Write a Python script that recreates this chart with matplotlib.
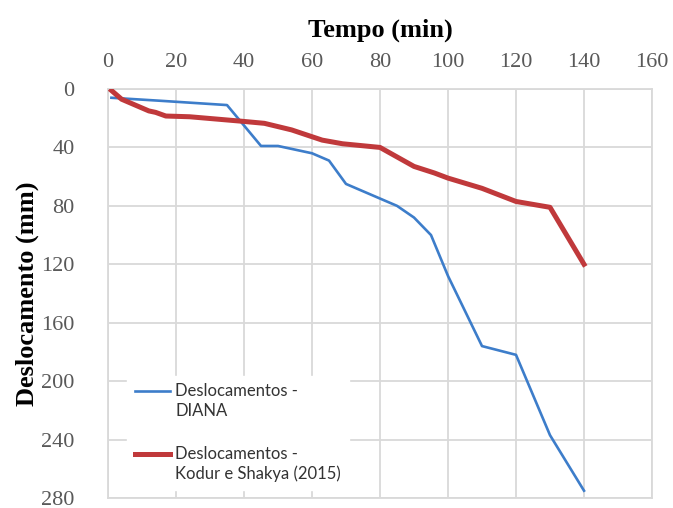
import matplotlib.pyplot as plt

# Dados
diana_t = [1, 15, 35, 45, 50, 60, 65, 70, 80, 85, 90, 95, 100, 110, 120, 130, 140]
diana_d = [6, 8, 11, 39, 39, 44, 49, 65, 75, 80, 88, 100, 128, 176, 182, 237, 275]

kodur_t = [1, 4, 12, 14, 17, 24, 39, 46, 54, 63, 69, 80, 90, 96, 100, 110, 120, 130, 140]
kodur_d = [1, 7, 15, 16, 18.5, 19, 22, 23.5, 28, 35, 37.5, 40, 53, 57.5, 61, 68, 77, 81, 120]

x_ticks = [0, 20, 40, 60, 80, 100, 120, 140, 160]
y_ticks = [0, 40, 80, 120, 160, 200, 240, 280]

labels = ['Deslocamentos -\nDIANA', 'Deslocamentos -\nKodur e Shakya (2015)']

fig = plt.figure(figsize=(6.73, 5.08), dpi=100)
ax = fig.add_axes([0.1605, 0.0197, 0.8083, 0.8051])

ax.plot(diana_t, diana_d, color='#3D7DCA', linewidth=1.9, label=labels[0], zorder=3)
ax.plot(kodur_t, kodur_d, color='#C0393B', linewidth=3.6, label=labels[1], zorder=3)

ax.set_xlim(0, 160)
ax.set_ylim(280, 0)
ax.set_xticks(x_ticks)
ax.set_yticks(y_ticks)

# eixo x no topo
ax.xaxis.tick_top()
ax.xaxis.set_label_position('top')

ax.grid(True, color='#D9D9D9', linewidth=1.3, zorder=0)
ax.set_axisbelow(True)
for s in ax.spines.values():
    s.set_color('#D9D9D9')
    s.set_linewidth(1.3)

ax.tick_params(length=0, labelsize=16, labelcolor='#595959')
ax.tick_params(axis='x', pad=12)
ax.tick_params(axis='y', pad=24)
for lab in ax.get_xticklabels() + ax.get_yticklabels():
    lab.set_family('Liberation Serif')

ax.set_xlabel('Tempo (min)', family='Liberation Serif', fontweight='bold', fontsize=19, labelpad=12)
ax.set_ylabel('Deslocamento (mm)', family='Liberation Serif', fontweight='bold', fontsize=19, labelpad=2)

leg = ax.legend(loc='lower left', bbox_to_anchor=(0.035, 0.02), borderaxespad=0,
                frameon=True, facecolor='white', edgecolor='white', framealpha=1,
                fancybox=False, handlelength=2.15, handletextpad=0.3, labelspacing=1.6,
                borderpad=0.45, prop={'family': 'Lato', 'size': 12})
for t in leg.get_texts():
    t.set_color('#333333')
    t.set_linespacing(1.3)
# linha da legenda alinhada com a primeira linha do texto
for ln in leg.get_lines():
    ln.set_ydata([v + 8 for v in ln.get_ydata()])
leg.set_zorder(5)

plt.savefig('out.png', dpi=100)
